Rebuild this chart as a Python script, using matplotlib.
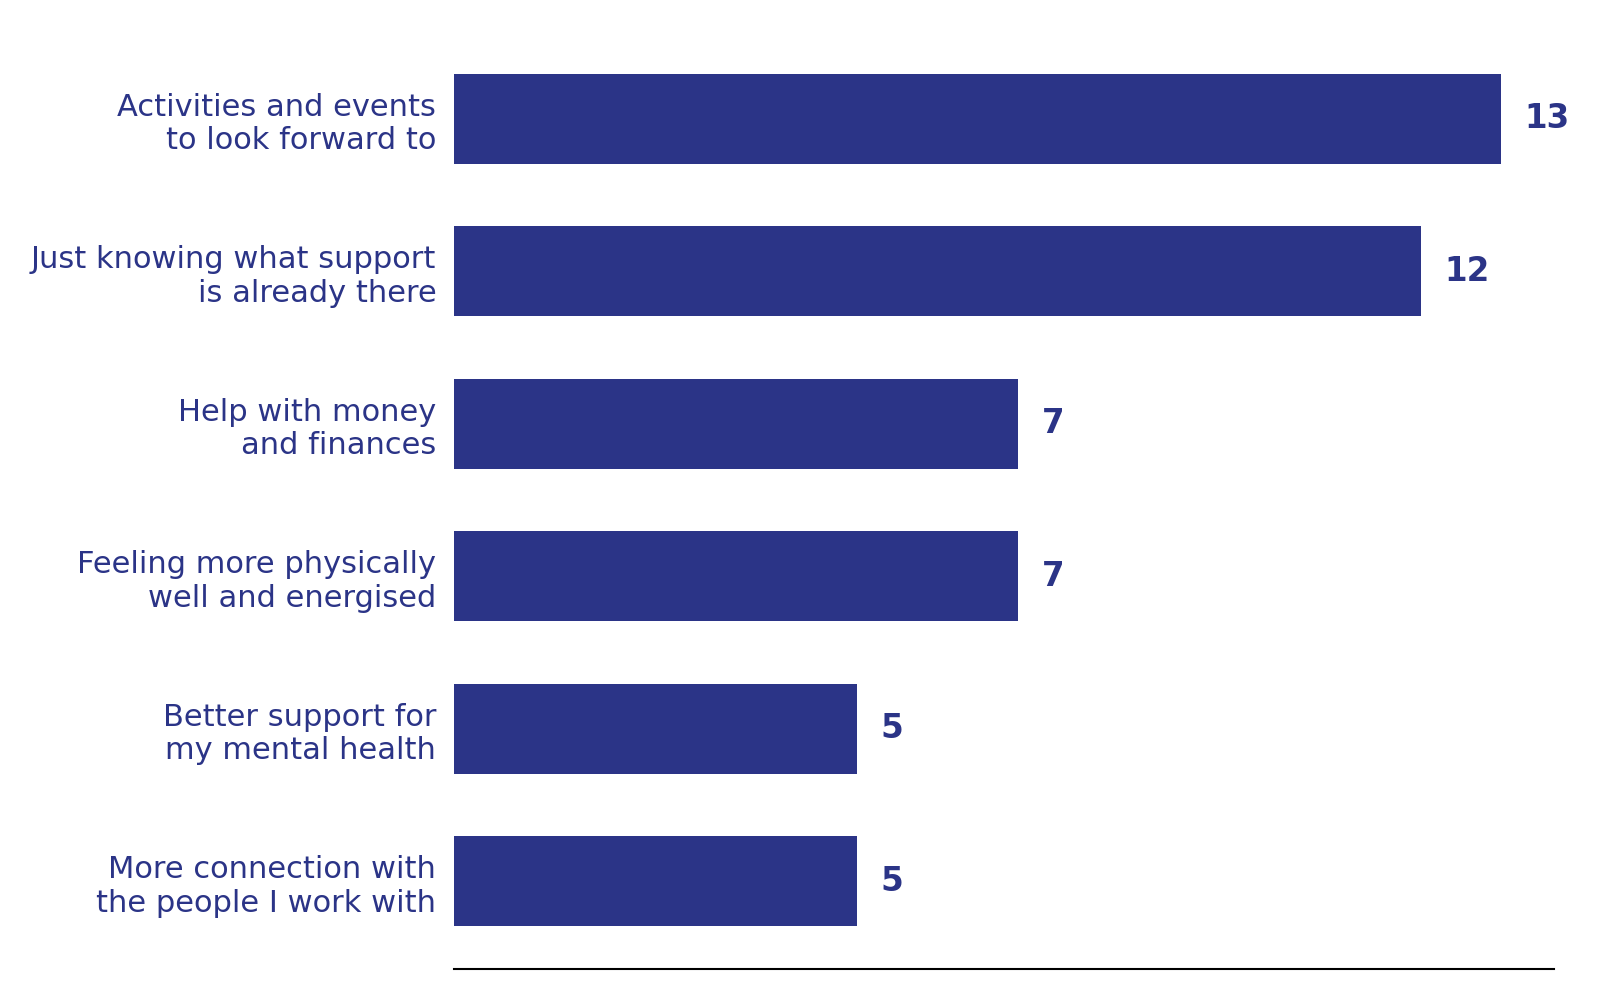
import matplotlib
matplotlib.use("Agg")
import matplotlib.pyplot as plt

categories = [
    "Activities and events\nto look forward to",
    "Just knowing what support\nis already there",
    "Help with money\nand finances",
    "Feeling more physically\nwell and energised",
    "Better support for\nmy mental health",
    "More connection with\nthe people I work with",
]
values = [13, 12, 7, 7, 5, 5]

navy = "#2b3487"

fig = plt.figure(figsize=(16, 10), dpi=100)
ax = fig.add_axes([0.284, 0.031, 0.687, 0.938])

ypos = list(range(len(categories)))
ax.barh(ypos, values, height=0.59, color=navy)

for y, v in zip(ypos, values):
    ax.annotate(str(v), xy=(v, y), xytext=(17, 0), textcoords="offset points",
                va="center", ha="left", fontsize=23.5, fontweight="bold", color=navy)

ax.set_yticks(ypos)
ax.set_yticklabels(categories, fontsize=22, color=navy, ha="right")
ax.tick_params(axis="y", length=0, pad=13)
ax.set_xticks([])
ax.set_xlim(0, 13.65)
ax.set_ylim(5.575, -0.575)

for s in ["top", "right", "left"]:
    ax.spines[s].set_visible(False)
ax.spines["bottom"].set_linewidth(1.5)
ax.spines["bottom"].set_color("black")

fig.savefig("out.png", dpi=100, facecolor="white")
